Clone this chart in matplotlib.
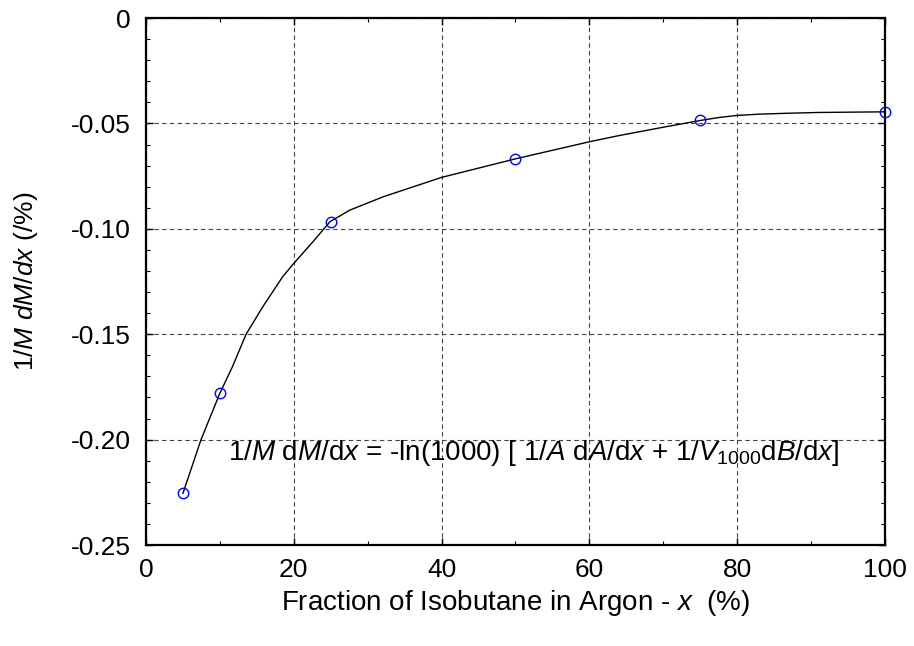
import matplotlib
matplotlib.use("Agg")
import matplotlib.pyplot as plt
from matplotlib.ticker import MultipleLocator

plt.rcParams['font.family'] = ['Liberation Sans', 'DejaVu Sans']
plt.rcParams['mathtext.fontset'] = 'custom'
plt.rcParams['mathtext.rm'] = 'Liberation Sans'
plt.rcParams['mathtext.it'] = 'Liberation Sans:italic'

# measured points
isobutane = [5, 10, 25, 50, 75, 100]
dm_dx = [-0.2255, -0.178, -0.0966, -0.0668, -0.0486, -0.0445]

# fitted curve
curve_x = [5, 7.45, 10, 11.7, 13.55, 15.8, 18.5, 20, 22.6, 24.9, 27.6, 32.1,
           40, 50, 60, 64.1, 70, 75, 77.5, 80, 83, 86.5, 91, 100]
curve_y = [-0.2255, -0.200, -0.178, -0.1654, -0.150, -0.137, -0.1227, -0.1164,
           -0.1061, -0.0966, -0.0911, -0.0848, -0.0756, -0.0668, -0.0587,
           -0.0557, -0.0518, -0.0486, -0.0472, -0.0462, -0.0456, -0.0452,
           -0.0448, -0.0445]

fig = plt.figure(figsize=(9.14, 6.46), dpi=100)
ax = fig.add_axes([0.1597, 0.1563, 0.8086, 0.8158])

ax.plot(curve_x, curve_y, color='black', lw=1.0, zorder=3)
ax.plot(isobutane, dm_dx, 'o', mfc='none', mec='blue', ms=7.5, mew=1.0,
        zorder=4, clip_on=False)

ax.set_xlim(0, 100)
ax.set_ylim(-0.25, 0)
ax.xaxis.set_major_locator(MultipleLocator(20))
ax.xaxis.set_minor_locator(MultipleLocator(10))
ax.yaxis.set_minor_locator(MultipleLocator(0.01))
ax.set_yticks([0, -0.05, -0.10, -0.15, -0.20, -0.25])
ax.set_yticklabels(['0', '-0.05', '-0.10', '-0.15', '-0.20', '-0.25'])

ax.tick_params(which='both', direction='in', top=True, right=True)
ax.tick_params(which='major', length=5, width=1, labelsize=19)
ax.tick_params(axis='y', which='major', pad=11)
ax.tick_params(axis='x', which='major', pad=9)
ax.tick_params(which='minor', length=3, width=0.8)
ax.grid(True, which='major', ls=(0, (4, 3)), color='#444444', lw=0.8)
for s in ax.spines.values():
    s.set_linewidth(1.6)

ax.set_xlabel('Fraction of Isobutane in Argon - $\\mathit{x}$  (%)', fontsize=20,
              labelpad=5)
ax.set_ylabel('$\\mathit{1/M\\ dM/dx}$ (/%)', fontsize=19, labelpad=22)

ax.text(11.1, -0.2062,
        '1/$\\mathit{M}$ d$\\mathit{M}$/d$\\mathit{x}$ = -ln(1000) [ 1/$\\mathit{A}$ d$\\mathit{A}$/d$\\mathit{x}$'
        ' + 1/$\\mathit{V}_{\\mathit{1000}}$d$\\mathit{B}$/d$\\mathit{x}$]',
        fontsize=20, va='center', ha='left')

fig.savefig('out.png', dpi=100)
